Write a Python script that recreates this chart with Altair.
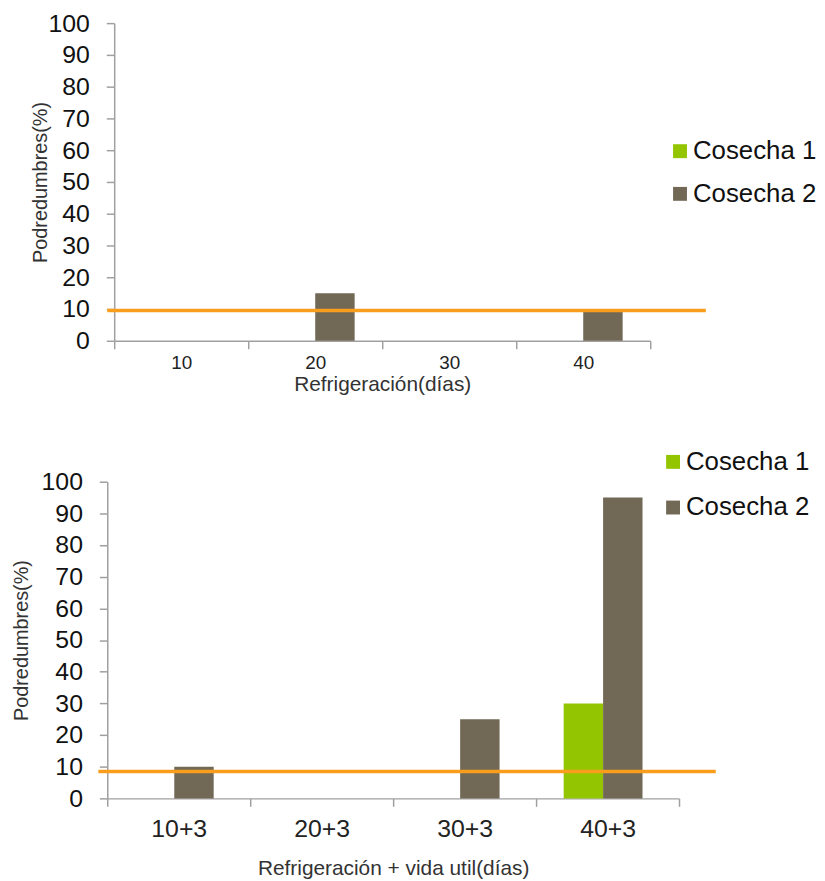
import altair as alt
import pandas as pd

series = ["Cosecha 1", "Cosecha 2"]
colors = ["#93C500", "#726856"]

top_cats = ["10", "20", "30", "40"]
top_c1 = [0, 0, 0, 0]
top_c2 = [0, 15, 0, 10]
top_threshold = 9.5

bot_cats = ["10+3", "20+3", "30+3", "40+3"]
bot_c1 = [0, 0, 0, 30]
bot_c2 = [10, 0, 25, 95]
bot_threshold = 8.5

FONT = "Liberation Sans"


def make_df(cats, c1, c2):
    rows = []
    for c, a, b in zip(cats, c1, c2):
        rows.append({"cat": c, "serie": series[0], "val": a})
        rows.append({"cat": c, "serie": series[1], "val": b})
    return pd.DataFrame(rows)


def panel(cats, c1, c2, thr, w, h, shift, xtitle, xlabsize, xlabpad, xtitlesize,
          xtitlepad, ytitlepad, legx, legy, rowpad, line_x0, line_x1):
    df = make_df(cats, c1, c2)
    yaxis = alt.Axis(values=list(range(0, 101, 10)), grid=False,
                     labelOverlap=False, offset=-shift,
                     labelFontSize=25, labelFont=FONT, titleFont=FONT,
                     titleFontSize=20, titleFontWeight="normal",
                     titlePadding=ytitlepad, labelPadding=17, tickSize=8,
                     domainColor="#A0A0A0", tickColor="#A0A0A0",
                     labelColor="#111", titleColor="#333",
                     domainWidth=1.5, tickWidth=1.5)
    yscale = alt.Scale(domain=[0, 100], nice=False)
    bars = alt.Chart(df).mark_bar().encode(
        x=alt.X("cat:N", sort=cats, title=xtitle,
                scale=alt.Scale(paddingInner=0, paddingOuter=0, range=[shift, w]),
                axis=alt.Axis(labelAngle=0, tickBand="extent", labelFontSize=xlabsize,
                              labelFont=FONT, titleFont=FONT, titleFontSize=xtitlesize,
                              titleFontWeight="normal", titlePadding=xtitlepad,
                              labelPadding=xlabpad, tickSize=8, domainColor="#A0A0A0",
                              tickColor="#A0A0A0", labelColor="#222", titleColor="#333",
                              domainWidth=1.5, tickWidth=1.5)),
        xOffset=alt.XOffset("serie:N", sort=series,
                            scale=alt.Scale(paddingInner=0, paddingOuter=0.7)),
        y=alt.Y("val:Q", title="Podredumbres(%)", scale=yscale, axis=yaxis),
        color=alt.Color("serie:N", sort=series,
                        scale=alt.Scale(domain=series, range=colors),
                        legend=alt.Legend(title=None, orient="none", legendX=legx,
                                          legendY=legy, labelFontSize=26,
                                          labelFont=FONT, labelColor="#111",
                                          symbolType="square", symbolSize=196,
                                          symbolStrokeWidth=0, rowPadding=rowpad,
                                          labelOffset=0, padding=0)),
    )
    line = alt.Chart(pd.DataFrame({"thr": [thr]})).mark_rule(
        color="#F99D1C", strokeWidth=3.5
    ).encode(y=alt.Y("thr:Q", title="Podredumbres(%)", scale=yscale, axis=yaxis),
             x=alt.value(line_x0), x2=alt.value(line_x1))
    return alt.layer(bars, line).properties(width=w, height=h)


top = panel(top_cats, top_c1, top_c2, top_threshold, 547, 320, 7,
            "Refrigeración(días)", 19, 5, 21, 1, -2, 564, 116, 17, 0, 603)
bottom = panel(bot_cats, bot_c1, bot_c2, bot_threshold, 576, 319, 0,
               "Refrigeración + vida util(días)", 25, 10, 21, 17, 10, 557, -33, 20, -9, 613)

chart = alt.vconcat(top, bottom, spacing=55).resolve_scale(
    color="independent"
).resolve_legend(color="independent").configure(
    background="white", padding={"left": 3, "top": 0, "right": 0, "bottom": 0}
).configure_view(stroke=None)

chart.save("out.html", embed_options={"renderer": "svg", "actions": False})
